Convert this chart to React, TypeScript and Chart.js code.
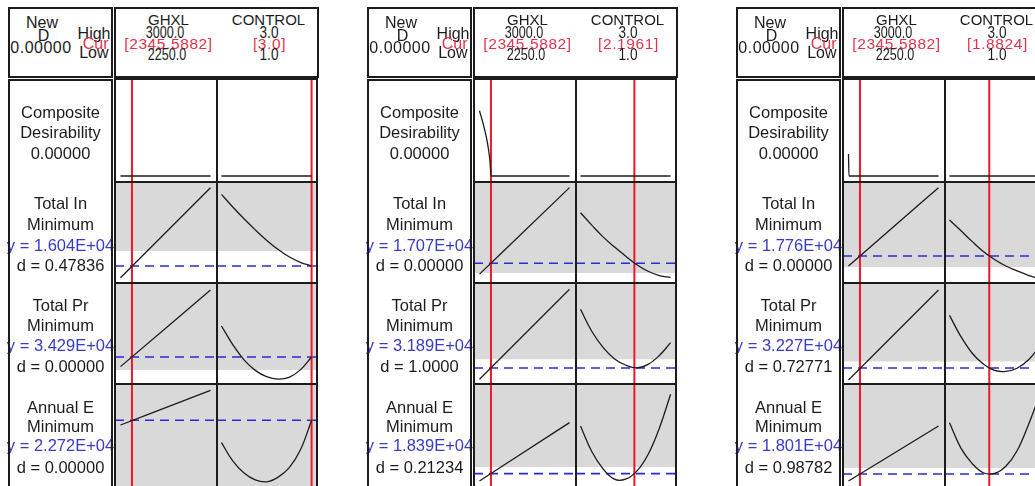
import React, { useEffect, useRef } from "react";
import { Chart, registerables } from "chart.js";

Chart.register(...registerables);

// ---------- factor settings ----------
const factorNames = ["GHXL", "CONTROL"];
const factorHighLabels = ["3000.0", "3.0"];
const factorLowLabels = ["2250.0", "1.0"];
const ghxlCur = [2345.5882, 2345.5882, 2345.5882];
const controlCur = [3.0, 2.1961, 1.8824];
const ghxlCurLabels = ["[2345.5882]", "[2345.5882]", "[2345.5882]"];
const controlCurLabels = ["[3.0]", "[2.1961]", "[1.8824]"];

// ---------- responses ----------
const responseNames = ["Total In", "Total Pr", "Annual E"];
const responseGoal = "Minimum";
const compositeLabels = ["0.00000", "0.00000", "0.00000"];
const p1YLabels = ["1.604E+04", "3.429E+04", "2.272E+04"];
const p2YLabels = ["1.707E+04", "3.189E+04", "1.839E+04"];
const p3YLabels = ["1.776E+04", "3.227E+04", "1.801E+04"];
const p1DLabels = ["0.47836", "0.00000", "0.00000"];
const p2DLabels = ["0.00000", "1.0000", "0.21234"];
const p3DLabels = ["0.00000", "0.72771", "0.98782"];

// ---------- curve samples (response as % of plotted range) ----------
const ghxlX = [2250, 3000];
const controlX = [1.0, 1.25, 1.5, 1.75, 2.0, 2.25, 2.5, 2.75, 3.0];

// panel 1 (CONTROL = 3.0)
const p1TotalInVsGhxl = [5.2, 94.4];
const p1TotalPrVsGhxl = [17.2, 93.1];
const p1AnnualEVsGhxl = [59.8, 93.8];
const p1TotalInVsControl = [87.8, 75.2, 63.6, 52.6, 42.4, 33.4, 26.0, 20.5, 16.8];
const p1TotalPrVsControl = [57.4, 39.0, 23.9, 13.5, 7.3, 4.9, 6.6, 14.0, 26.7];
const p1AnnualEVsControl = [42.5, 24.6, 12.7, 6.0, 4.1, 8.5, 17.7, 35.2, 64.4];
const p1Current = [16.8, 26.7, 64.4];
const p1Upper = [31.7, 13.9, -10];

// panel 2 (CONTROL = 2.1961)
const p2TotalInVsGhxl = [8.8, 94.4];
const p2TotalPrVsGhxl = [4.7, 93.8];
const p2AnnualEVsGhxl = [4.9, 62.1];
const p2TotalInVsControl = [69.6, 57.3, 45.7, 35.8, 26.7, 18.1, 11.6, 7.4, 5.5];
const p2TotalPrVsControl = [74.0, 52.2, 36.3, 25.1, 18.8, 15.9, 19.4, 28.2, 40.9];
const p2AnnualEVsControl = [58.8, 33.8, 16.8, 6.7, 6.7, 14.6, 30.9, 56.7, 90.0];
const p2Current = [19.5, 15.8, 12.1];
const p2Upper = [9.9, 24.5, 18.6];

// panel 3 (CONTROL = 1.8824)
const p3TotalInVsGhxl = [16.8, 94.4];
const p3TotalPrVsGhxl = [4.0, 93.1];
const p3AnnualEVsGhxl = [4.9, 58.8];
const p3TotalInVsControl = [62.4, 51.9, 41.2, 31.2, 23.2, 16.8, 12.1, 7.6, 4.0];
const p3TotalPrVsControl = [68.0, 47.2, 30.7, 19.8, 13.4, 12.4, 15.6, 23.7, 37.0];
const p3AnnualEVsControl = [62.1, 37.4, 22.2, 13.0, 12.3, 19.3, 34.5, 59.9, 89.0];
const p3Current = [26.7, 15.8, 11.8];
const p3Upper = [15.8, 22.3, 17.6];

// composite desirability
const p1CompX = [2250, 3000];
const p1CompVsGhxl = [0, 0];
const p2CompX = [2250, 2278, 2306, 2325, 2339, 2346, 3000];
const p2CompVsGhxl = [0.71, 0.58, 0.43, 0.29, 0.14, 0, 0];
const p3CompX = [2250, 2254, 3000];
const p3CompVsGhxl = [0.24, 0, 0];
const compControlX = [1.0, 3.0];
const compVsControl = [0, 0];

// ---------- assembly ----------
const yLabels = [p1YLabels, p2YLabels, p3YLabels];
const dLabels = [p1DLabels, p2DLabels, p3DLabels];
const vsGhxl = [
  [p1TotalInVsGhxl, p1TotalPrVsGhxl, p1AnnualEVsGhxl],
  [p2TotalInVsGhxl, p2TotalPrVsGhxl, p2AnnualEVsGhxl],
  [p3TotalInVsGhxl, p3TotalPrVsGhxl, p3AnnualEVsGhxl],
];
const vsControl = [
  [p1TotalInVsControl, p1TotalPrVsControl, p1AnnualEVsControl],
  [p2TotalInVsControl, p2TotalPrVsControl, p2AnnualEVsControl],
  [p3TotalInVsControl, p3TotalPrVsControl, p3AnnualEVsControl],
];
const currents = [p1Current, p2Current, p3Current];
const uppers = [p1Upper, p2Upper, p3Upper];
const compX = [p1CompX, p2CompX, p3CompX];
const compY = [p1CompVsGhxl, p2CompVsGhxl, p3CompVsGhxl];

// ---------- style / layout ----------
const INK = "#1c1c1c";
const RED = "#f01828";
const RED_TEXT = "#e2344e";
const BLUE = "#2a2ad8";
const BLUE_TEXT = "#3a3ac8";
const GRAY = "#d9d9d9";
const FONT = "'Liberation Sans', Arial, sans-serif";

const panelBase = [0, 359, 728];
const colLeft = [115, 217];
const colWidth = [102, 100];
const rowTop = [79, 182, 283, 384];
const rowHeight = [103, 101, 101, 102];
const xScaleGhxl = { min: 2204.2, max: 3054.2 };
const xScaleControl = { min: 0.9, max: 3.12 };
const yScaleComposite = { min: -0.065, max: 1.055 };
const yScaleResponse = { min: 0, max: 100 };

const bandPlugin = {
  id: "band",
  beforeDatasetsDraw(chart: any, _args: any, opts: any) {
    if (!opts || opts.value === null || opts.value === undefined) return;
    const { ctx, chartArea: a, scales } = chart;
    const yp = Math.min(a.bottom, Math.max(a.top, scales.y.getPixelForValue(opts.value)));
    ctx.save();
    ctx.fillStyle = opts.color;
    ctx.fillRect(a.left, a.top, a.right - a.left, yp - a.top);
    ctx.restore();
  },
};

type CellProps = {
  left: number;
  top: number;
  width: number;
  height: number;
  xs: number[];
  ys: number[];
  xMin: number;
  xMax: number;
  yMin: number;
  yMax: number;
  curX: number;
  curY: number | null;
  upper: number | null;
  smooth: boolean;
};

function Cell(p: CellProps) {
  const ref = useRef<HTMLCanvasElement>(null);
  useEffect(() => {
    const canvas = ref.current;
    if (!canvas) return;
    const curve: any = {
      data: p.xs.map((x, i) => ({ x, y: p.ys[i] })),
      borderColor: INK,
      borderWidth: 1.3,
      pointRadius: 0,
      order: 0,
    };
    if (p.smooth) curve.tension = 0.4;
    else curve.cubicInterpolationMode = "monotone";
    const datasets: any[] = [
      curve,
      {
        data: [
          { x: p.curX, y: p.yMin },
          { x: p.curX, y: p.yMax },
        ],
        borderColor: RED,
        borderWidth: 2,
        pointRadius: 0,
        order: 1,
      },
    ];
    if (p.curY !== null) {
      datasets.push({
        data: [
          { x: p.xMin, y: p.curY },
          { x: p.xMax, y: p.curY },
        ],
        borderColor: BLUE,
        borderWidth: 1.6,
        borderDash: [9, 6],
        pointRadius: 0,
        order: 2,
      });
    }
    const chart = new Chart(canvas, {
      type: "line",
      data: { datasets },
      options: {
        animation: false,
        responsive: false,
        maintainAspectRatio: false,
        events: [],
        layout: { padding: 0 },
        scales: {
          x: { type: "linear", min: p.xMin, max: p.xMax, display: false },
          y: { type: "linear", min: p.yMin, max: p.yMax, display: false },
        },
        plugins: {
          legend: { display: false },
          tooltip: { enabled: false },
          band: { value: p.upper, color: GRAY },
        } as any,
      },
      plugins: [bandPlugin],
    });
    return () => chart.destroy();
  }, []);
  return (
    <canvas
      ref={ref}
      width={p.width}
      height={p.height}
      style={{ position: "absolute", left: p.left, top: p.top, width: p.width, height: p.height }}
    />
  );
}

function Txt(props: {
  x: number;
  y: number;
  s: string;
  align?: "center" | "right" | "left";
  color?: string;
  size?: number;
  ls?: number;
  sx?: number;
}) {
  const { x, y, s, align = "center", color = INK, size = 16.5, ls = 0, sx = 1 } = props;
  const w = 220;
  const left = align === "center" ? x - w / 2 : align === "right" ? x - w : x;
  return (
    <div
      style={{
        position: "absolute",
        left,
        top: y - 10,
        width: w,
        height: 20,
        lineHeight: "20px",
        fontSize: size,
        color,
        textAlign: align,
        letterSpacing: ls,
        whiteSpace: "nowrap",
        transform: sx !== 1 ? `scaleX(${sx})` : undefined,
        transformOrigin: align === "right" ? "100% 50%" : align === "left" ? "0% 50%" : "50% 50%",
      }}
    >
      {s}
    </div>
  );
}

function Box(props: { l: number; t: number; r: number; b: number }) {
  const { l, t, r, b } = props;
  return (
    <div
      style={{
        position: "absolute",
        left: l - 1,
        top: t - 1,
        width: r - l + 2,
        height: b - t + 2,
        border: `2px solid ${INK}`,
        boxSizing: "border-box",
      }}
    />
  );
}

function Line(props: { l: number; t: number; w: number; h: number }) {
  return <div style={{ position: "absolute", left: props.l, top: props.t, width: props.w, height: props.h, background: INK }} />;
}

const labelRowCenters = [
  [111.5, 132, 152.5],
  [203, 224, 245, 265],
  [305, 325, 345, 366],
  [407, 426, 445, 467],
];

function Panel({ idx }: { idx: number }) {
  const b = panelBase[idx];
  const cells: any[] = [];
  for (let r = 0; r < 4; r++) {
    for (let c = 0; c < 2; c++) {
      const isG = c === 0;
      const xs = r === 0 ? (isG ? compX[idx] : compControlX) : isG ? ghxlX : controlX;
      const ys = r === 0 ? (isG ? compY[idx] : compVsControl) : isG ? vsGhxl[idx][r - 1] : vsControl[idx][r - 1];
      const xsc = isG ? xScaleGhxl : xScaleControl;
      const ysc = r === 0 ? yScaleComposite : yScaleResponse;
      cells.push(
        <Cell
          key={`${r}-${c}`}
          left={b + colLeft[c]}
          top={rowTop[r]}
          width={colWidth[c]}
          height={rowHeight[r]}
          xs={xs}
          ys={ys}
          xMin={xsc.min}
          xMax={xsc.max}
          yMin={ysc.min}
          yMax={ysc.max}
          curX={isG ? ghxlCur[idx] : controlCur[idx]}
          curY={r === 0 ? null : currents[idx][r - 1]}
          upper={r === 0 ? null : uppers[idx][r - 1]}
          smooth={!isG && r > 0}
        />
      );
    }
  }
  const cx = b + 60.5;
  const col1c = b + 166.5;
  const col2c = b + 268.5;
  return (
    <>
      {cells}
      {/* header left */}
      <Txt x={b + 42} y={23} s="New" size={16} />
      <Txt x={b + 43.5} y={36} s="D" size={16} />
      <Txt x={b + 41} y={47.5} s={compositeLabels[idx]} size={16} ls={0.5} />
      <Txt x={b + 110.5} y={33.5} s="High" align="right" size={16} />
      <Txt x={b + 108.5} y={43.5} s="Cur" align="right" size={16} color={RED_TEXT} />
      <Txt x={b + 108.5} y={53} s="Low" align="right" size={16} />
      {/* header right */}
      <Txt x={col1c + 2} y={20} s={factorNames[0]} size={15} />
      <Txt x={col2c} y={20} s={factorNames[1]} size={15} />
      <Txt x={col1c - 2} y={33} s={factorHighLabels[0]} size={17} sx={0.74} />
      <Txt x={col2c} y={33} s={factorHighLabels[1]} size={17} sx={0.8} />
      <Txt x={col1c + 2} y={44} s={ghxlCurLabels[idx]} size={15.5} ls={0.6} color={RED_TEXT} />
      <Txt x={col2c + 1} y={44} s={controlCurLabels[idx]} size={15.5} ls={0.6} color={RED_TEXT} />
      <Txt x={col1c} y={55} s={factorLowLabels[0]} size={17} sx={0.74} />
      <Txt x={col2c} y={55} s={factorLowLabels[1]} size={17} sx={0.8} />
      {/* label column */}
      <Txt x={cx} y={labelRowCenters[0][0]} s="Composite" />
      <Txt x={cx} y={labelRowCenters[0][1]} s="Desirability" />
      <Txt x={cx} y={labelRowCenters[0][2]} s={compositeLabels[idx]} />
      {responseNames.map((name, i) => (
        <React.Fragment key={name}>
          <Txt x={cx} y={labelRowCenters[i + 1][0]} s={name} />
          <Txt x={cx} y={labelRowCenters[i + 1][1]} s={responseGoal} />
          <Txt x={cx} y={labelRowCenters[i + 1][2]} s={`y = ${yLabels[idx][i]}`} color={BLUE_TEXT} />
          <Txt x={cx} y={labelRowCenters[i + 1][3]} s={`d = ${dLabels[idx][i]}`} />
        </React.Fragment>
      ))}
      {/* borders */}
      <Box l={b + 9} t={8} r={b + 112} b={77} />
      <Box l={b + 115} t={8} r={b + 318} b={77} />
      <Box l={b + 9} t={80} r={b + 112} b={600} />
      <Box l={b + 115} t={79} r={b + 317} b={600} />
      <Line l={b + 216} t={78} w={2} h={420} />
      <Line l={b + 114} t={181} w={204} h={2} />
      <Line l={b + 114} t={282} w={204} h={2} />
      <Line l={b + 114} t={383} w={204} h={2} />
    </>
  );
}

export default function App() {
  return (
    <div
      style={{
        position: "fixed",
        left: 0,
        top: 0,
        width: 1035,
        height: 486,
        overflow: "hidden",
        background: "#ffffff",
        fontFamily: FONT,
      }}
    >
      {[0, 1, 2].map((i) => (
        <Panel key={i} idx={i} />
      ))}
    </div>
  );
}
